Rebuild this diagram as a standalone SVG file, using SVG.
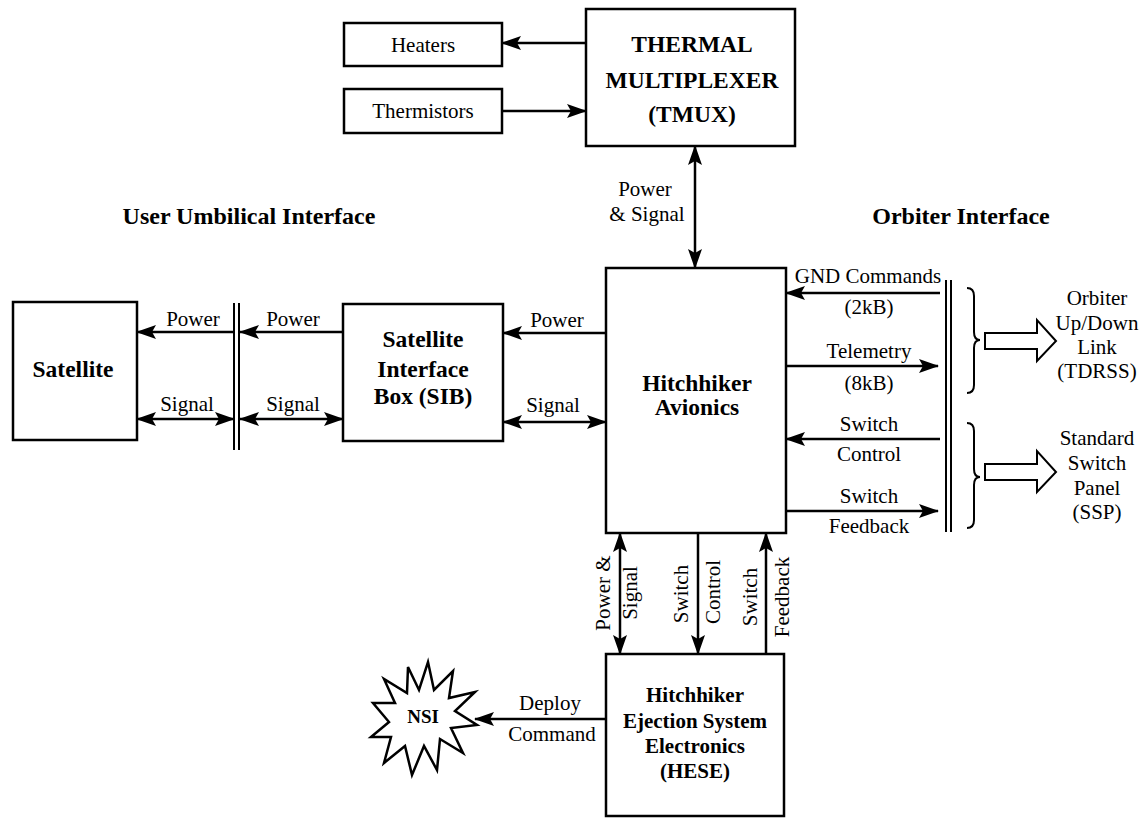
<svg xmlns="http://www.w3.org/2000/svg" width="1146" height="818" viewBox="0 0 1146 818">
<defs>
<style>
.box{fill:#fff;stroke:#000;stroke-width:2.5}
.ln{fill:none;stroke:#000;stroke-width:2.5}
.thin{fill:none;stroke:#000;stroke-width:2}
.a{marker-end:url(#ah)}
.b{marker-start:url(#ah);marker-end:url(#ah)}
.t{font-family:"Liberation Serif","Times New Roman",serif;font-size:21px;fill:#000;text-anchor:middle}
.tb{font-family:"Liberation Serif","Times New Roman",serif;font-size:23.5px;font-weight:bold;fill:#000;text-anchor:middle}
.hb{font-family:"Liberation Serif","Times New Roman",serif;font-size:24px;font-weight:bold;fill:#000;text-anchor:middle}
</style>
<marker id="ah" markerUnits="userSpaceOnUse" markerWidth="20" markerHeight="14" viewBox="0 0 20 14" refX="19" refY="7" orient="auto-start-reverse">
<path d="M0,0 L20,7 L0,14 L4,7 z" fill="#000"/>
</marker>
</defs>
<rect width="1146" height="818" fill="#fff"/>

<text class="hb" x="249" y="224">User Umbilical Interface</text>
<text class="hb" x="961" y="224">Orbiter Interface</text>

<g id="heaters">
<rect class="box" x="344" y="23" width="158" height="43"/>
<text class="t" x="423" y="52">Heaters</text>
</g>
<g id="thermistors">
<rect class="box" x="344" y="89" width="158" height="44"/>
<text class="t" x="423" y="118">Thermistors</text>
</g>
<g id="tmux">
<rect class="box" x="586" y="9" width="209" height="137"/>
<text class="tb" x="692" y="52">THERMAL</text>
<text class="tb" x="692" y="88">MULTIPLEXER</text>
<text class="tb" x="692" y="122">(TMUX)</text>
</g>
<g id="avionics">
<rect class="box" x="606" y="268" width="180" height="265"/>
<text class="tb" x="697" y="391">Hitchhiker</text>
<text class="tb" x="697" y="415">Avionics</text>
</g>
<g id="satellite">
<rect class="box" x="13" y="302" width="124" height="138"/>
<text class="tb" x="73" y="377">Satellite</text>
</g>
<g id="sib">
<rect class="box" x="343" y="304" width="160" height="137"/>
<text class="tb" x="423" y="347">Satellite</text>
<text class="tb" x="423" y="377">Interface</text>
<text class="tb" x="423" y="404">Box (SIB)</text>
</g>
<g id="hese">
<rect class="box" x="606" y="654" width="178" height="162"/>
<text class="tb" x="695" y="702" style="font-size:21px">Hitchhiker</text>
<text class="tb" x="695" y="728" style="font-size:21px">Ejection System</text>
<text class="tb" x="695" y="753" style="font-size:21px">Electronics</text>
<text class="tb" x="695" y="778" style="font-size:21px">(HESE)</text>
</g>
<g id="nsi">
<polygon class="box" points="428,662 434,690 453,671 449,698 475,692 455,711 477,725 451,728 463,753 440,739 437,770 424,746 412,775 405,746 384,763 391,737 371,737 389,722 373,703 395,703 384,679 407,693 408,667 419,690"/>
<text class="tb" x="423" y="723" style="font-size:19px">NSI</text>
</g>
<g id="orbiter-link">
<text class="t" x="1097" y="305">Orbiter</text>
<text class="t" x="1097" y="330">Up/Down</text>
<text class="t" x="1097" y="354">Link</text>
<text class="t" x="1097" y="378">(TDRSS)</text>
</g>
<g id="ssp">
<text class="t" x="1097" y="445">Standard</text>
<text class="t" x="1097" y="470">Switch</text>
<text class="t" x="1097" y="495">Panel</text>
<text class="t" x="1097" y="519">(SSP)</text>
</g>

<g id="connectors">
<line class="ln a" x1="586" y1="43" x2="502" y2="43"/>
<line class="ln a" x1="502" y1="111" x2="586" y2="111"/>
<line class="ln b" x1="695" y1="146" x2="695" y2="268"/>
<text class="t" x="645" y="196">Power</text>
<text class="t" x="647" y="221">&amp; Signal</text>

<line class="ln a" x1="606" y1="333" x2="503" y2="333"/>
<text class="t" x="557" y="327">Power</text>
<line class="ln b" x1="503" y1="422" x2="606" y2="422"/>
<text class="t" x="553" y="412">Signal</text>

<line class="ln a" x1="343" y1="332" x2="240" y2="332"/>
<text class="t" x="293" y="326">Power</text>
<line class="ln b" x1="240" y1="419" x2="343" y2="419"/>
<text class="t" x="293" y="411">Signal</text>
<line class="ln a" x1="234" y1="332" x2="137" y2="332"/>
<text class="t" x="193" y="326">Power</text>
<line class="ln b" x1="137" y1="419" x2="234" y2="419"/>
<text class="t" x="187" y="411">Signal</text>
<line class="thin" x1="234" y1="303" x2="234" y2="450"/>
<line class="thin" x1="239" y1="303" x2="239" y2="450"/>

<line class="ln a" x1="940" y1="293" x2="786" y2="293"/>
<text class="t" x="868" y="283">GND Commands</text>
<text class="t" x="869" y="314">(2kB)</text>
<line class="ln a" x1="786" y1="366" x2="938" y2="366"/>
<text class="t" x="869" y="358">Telemetry</text>
<text class="t" x="869" y="390">(8kB)</text>
<line class="ln a" x1="940" y1="439" x2="786" y2="439"/>
<text class="t" x="869" y="431">Switch</text>
<text class="t" x="869" y="461">Control</text>
<line class="ln a" x1="786" y1="511" x2="938" y2="511"/>
<text class="t" x="869" y="503">Switch</text>
<text class="t" x="869" y="533">Feedback</text>
<line class="thin" x1="946" y1="280" x2="946" y2="532"/>
<line class="thin" x1="951" y1="280" x2="951" y2="532"/>

<path class="thin" d="M967,288 Q974,288 974,296 L974,332 Q974,340 980,340 Q974,340 974,348 L974,385 Q974,393 967,393"/>
<path class="thin" d="M967,423 Q974,423 974,431 L974,469 Q974,477 980,477 Q974,477 974,485 L974,520 Q974,528 967,528"/>
<polygon class="thin" points="985,333 1037,333 1037,320 1056,341 1037,361 1037,349 985,349"/>
<polygon class="thin" points="985,464 1037,464 1037,451 1056,472 1037,492 1037,480 985,480"/>

<line class="ln b" x1="620" y1="533" x2="620" y2="654"/>
<text class="t" transform="translate(610,593) rotate(-90)" x="0" y="0">Power &amp;</text>
<text class="t" transform="translate(637,593) rotate(-90)" x="0" y="0">Signal</text>
<line class="ln a" x1="698" y1="533" x2="698" y2="654"/>
<text class="t" transform="translate(688,594) rotate(-90)" x="0" y="0">Switch</text>
<text class="t" transform="translate(720,592) rotate(-90)" x="0" y="0">Control</text>
<line class="ln a" x1="766" y1="654" x2="766" y2="533"/>
<text class="t" transform="translate(757,597) rotate(-90)" x="0" y="0">Switch</text>
<text class="t" transform="translate(789,597) rotate(-90)" x="0" y="0">Feedback</text>

<line class="ln a" x1="606" y1="719" x2="475" y2="719"/>
<text class="t" x="550" y="710">Deploy</text>
<text class="t" x="552" y="741">Command</text>
</g>
</svg>
